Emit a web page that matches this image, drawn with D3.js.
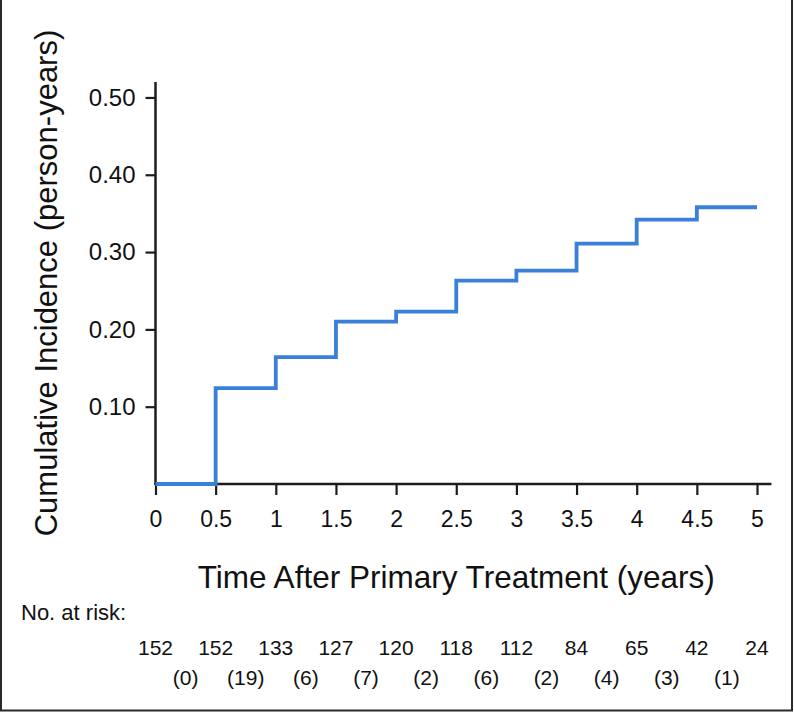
<!DOCTYPE html>
<html>
<head>
<meta charset="utf-8">
<script src="https://cdn.jsdelivr.net/npm/d3@7"></script>
<style>
  html, body { margin: 0; padding: 0; background: #fff; }
  svg { display: block; }
  text { font-family: "Liberation Sans", Arial, Helvetica, sans-serif; fill: #111; }
</style>
</head>
<body>
<svg id="chart" width="794" height="713"></svg>
<script>
// ---- data ----
const times = [0, 0.5, 1, 1.5, 2, 2.5, 3, 3.5, 4, 4.5, 5];
const incidence = [0, 0.124, 0.164, 0.210, 0.223, 0.263, 0.276, 0.311, 0.342, 0.358, 0.358];
const xTicks = [0, 0.5, 1, 1.5, 2, 2.5, 3, 3.5, 4, 4.5, 5];
const yTicks = [0.10, 0.20, 0.30, 0.40, 0.50];
const atRisk = [152, 152, 133, 127, 120, 118, 112, 84, 65, 42, 24];
const events = [0, 19, 6, 7, 2, 6, 2, 4, 3, 1];
const xTitle = "Time After Primary Treatment (years)";
const yTitle = "Cumulative Incidence (person-years)";
const riskLabel = "No. at risk:";

// ---- layout ----
const W = 794, H = 713;
const svg = d3.select("#chart");
const x = d3.scaleLinear().domain([0, 5]).range([155.5, 757]);
const y = d3.scaleLinear().domain([0, 0.52]).range([484, 82]);
const axisColor = "#1c1c1c";
const font = '"Liberation Sans", Arial, sans-serif';

// frame (left, right, bottom)
svg.append("path")
  .attr("d", `M1,0 V${H - 2.5} H${W - 2} V0`)
  .attr("fill", "none").attr("stroke", "#2a2a2a").attr("stroke-width", 2);

// y axis
const yAxis = svg.append("g").attr("transform", `translate(${x(0)},0)`)
  .call(d3.axisLeft(y).tickValues(yTicks).tickFormat(d3.format(".2f")).tickSize(10).tickPadding(10).tickSizeOuter(0));
yAxis.select(".domain").remove();
yAxis.selectAll(".tick line").attr("stroke", axisColor).attr("stroke-width", 2.2);
yAxis.selectAll(".tick text").style("font-size", "24px").attr("fill", "#111").style("font-family", font);
svg.append("line").attr("x1", x(0)).attr("x2", x(0)).attr("y1", y(0.52)).attr("y2", y(0) + 1)
  .attr("stroke", axisColor).attr("stroke-width", 2.5);

// x axis
const xAxis = svg.append("g").attr("transform", `translate(0,${y(0)})`)
  .call(d3.axisBottom(x).tickValues(xTicks).tickFormat(d => String(d)).tickSize(11).tickPadding(16).tickSizeOuter(0));
xAxis.select(".domain").remove();
xAxis.selectAll(".tick line").attr("stroke", axisColor).attr("stroke-width", 2.2);
xAxis.selectAll(".tick text").style("font-size", "23px").attr("fill", "#111").style("font-family", font);
svg.append("line").attr("x1", x(0) - 1).attr("x2", x(5.12)).attr("y1", y(0)).attr("y2", y(0))
  .attr("stroke", axisColor).attr("stroke-width", 2.5);

// step line
const data = times.map((t, i) => ({ t, v: incidence[i] }));
const line = d3.line().x(d => x(d.t)).y(d => y(d.v)).curve(d3.curveStepAfter);
svg.append("path").datum(data)
  .attr("d", line)
  .attr("fill", "none")
  .attr("stroke", "#3a80d8")
  .attr("stroke-width", 3.8)
  .attr("stroke-linejoin", "miter")
  .attr("stroke-linecap", "butt");

// axis titles
svg.append("text").attr("x", (x(0) + x(5)) / 2).attr("y", 588)
  .attr("text-anchor", "middle").style("font-size", "31.5px").text(xTitle);
svg.append("text")
  .attr("transform", `translate(57,${(y(0) + y(0.52)) / 2}) rotate(-90)`)
  .attr("text-anchor", "middle").style("font-size", "31px").text(yTitle);

// risk table
svg.append("text").attr("x", 21).attr("y", 620).style("font-size", "22px").text(riskLabel);
svg.append("g").selectAll("text").data(atRisk).join("text")
  .attr("x", (d, i) => x(xTicks[i])).attr("y", 655)
  .attr("text-anchor", "middle").style("font-size", "21px").text(d => d);
svg.append("g").selectAll("text").data(events).join("text")
  .attr("x", (d, i) => (x(xTicks[i]) + x(xTicks[i + 1])) / 2).attr("y", 685)
  .attr("text-anchor", "middle").style("font-size", "21px").text(d => `(${d})`);
</script>
</body>
</html>
